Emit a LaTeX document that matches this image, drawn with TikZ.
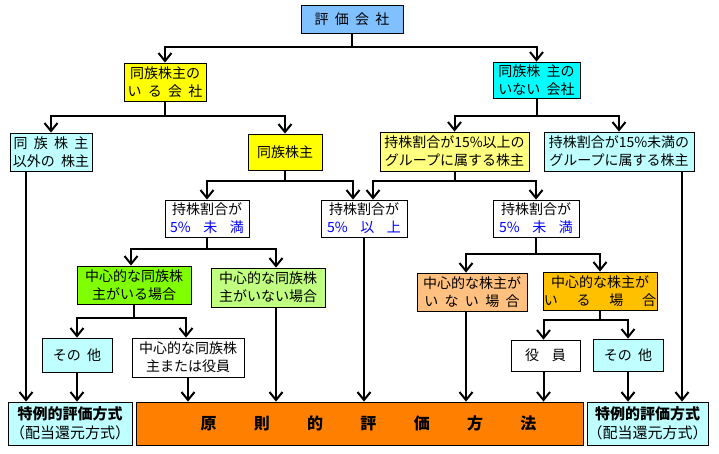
\documentclass[tikz,border=0pt]{standalone}
\usepackage{fontspec}
\setmainfont{Noto Sans CJK JP}[WordSpace=2]
\usetikzlibrary{arrows.meta}
\definecolor{skyblue}{HTML}{80C0FF}
\definecolor{aqua}{HTML}{00FFFF}
\definecolor{paleblue}{HTML}{C0FFFF}
\definecolor{paleyellow}{HTML}{FFFF80}
\definecolor{brightyellow}{HTML}{FFFF00}
\definecolor{limegreen}{HTML}{80FF00}
\definecolor{palegreen}{HTML}{C0FF80}
\definecolor{peach}{HTML}{FFC080}
\definecolor{amber}{HTML}{FFC000}
\definecolor{deeporange}{HTML}{FF8000}
\definecolor{ruleblue}{HTML}{0000FF}

\begin{document}
\begin{tikzpicture}[x=1pt, y=-1pt,
  every node/.style={draw, line width=0.8pt, inner sep=0pt, align=center, font=\fontsize{14pt}{18pt}\selectfont},
  result/.style={fill=paleblue, minimum width=124pt, minimum height=43pt, font=\fontsize{15pt}{19pt}\selectfont},
  link/.style={line width=2pt, -{Straight Barb[length=8pt,width=13pt]}}]
\useasboundingbox (0,0) rectangle (719,453);

\node[fill=skyblue, minimum width=102pt, minimum height=28pt] (firm) at (352,19) {評 価 会 社};
\node[fill=brightyellow, minimum width=82pt, minimum height=38pt] (famyes) at (165,82) {同族株主の\\い る 会 社};
\node[fill=aqua, minimum width=87pt, minimum height=36pt] (famno) at (536.5,80) {同族株 主の\\いない 会社};
\node[fill=paleblue, minimum width=82pt, minimum height=38pt] (others) at (51,152) {同 族 株 主\\以外の 株主};
\node[fill=brightyellow, minimum width=74pt, minimum height=36pt] (famsh) at (285,152) {同族株主};
\node[fill=paleyellow, minimum width=149pt, minimum height=39pt] (grpup) at (454.5,151.5) {持株割合が15\%以上の\\グループに属する株主};
\node[fill=paleblue, minimum width=150pt, minimum height=39pt] (grplow) at (619,151.5) {持株割合が15\%未満の\\グループに属する株主};
\node[fill=white, minimum width=84pt, minimum height=37pt] (ratlowL) at (207,218.5) {持株割合が\\\textcolor{ruleblue}{5\%~~未~~満}};
\node[fill=white, minimum width=86pt, minimum height=37pt] (ratup) at (364,218.5) {持株割合が\\\textcolor{ruleblue}{5\%~~以~~上}};
\node[fill=white, minimum width=86pt, minimum height=37pt] (ratlowR) at (536,218.5) {持株割合が\\\textcolor{ruleblue}{5\%~~未~~満}};
\node[fill=limegreen, minimum width=114pt, minimum height=38pt] (corefam) at (134,285) {中心的な同族株\\主がいる場合};
\node[fill=palegreen, minimum width=114pt, minimum height=39pt, align=left] (nocorefam) at (268,287.5) {中心的な同族株\\主がいない場合};
\node[fill=peach, minimum width=110pt, minimum height=38pt] (nocore) at (472,292) {中心的な株主が\\い な い 場 合};
\node[fill=amber, minimum width=114pt, minimum height=38pt] (core) at (600,291) {中心的な株主が\\い~~~る~~~場~~~合};
\node[fill=paleblue, minimum width=70pt, minimum height=34pt] (etcL) at (77,355) {その 他};
\node[fill=white, minimum width=112pt, minimum height=39pt] (coreoff) at (188,357.5) {中心的な同族株\\主または役員};
\node[fill=white, minimum width=69pt, minimum height=31pt] (officer) at (545.5,355.5) {役~~員};
\node[fill=paleblue, minimum width=70pt, minimum height=32pt] (etcR) at (628,355) {その 他};
\node[result] (specL) at (70,423.5) {\textbf{特例的評価方式}\\（配当還元方式）};
\node[fill=deeporange, minimum width=447pt, minimum height=43pt, font=\fontsize{16pt}{19pt}\selectfont\bfseries] (principle) at (359.5,423.5) {\hspace*{18pt}\makebox[336pt][s]{原\hfill 則\hfill 的\hfill 評\hfill 価\hfill 方\hfill 法}};
\node[result, minimum width=121pt] (specR) at (647.5,423.5) {\textbf{特例的評価方式}\\（配当還元方式）};

\draw[link] (firm.south) -- ++(0,14) -| (famyes.north);
\draw[link] (firm.south) -- ++(0,14) -| (famno.north);
\draw[link] (famyes.south) -- ++(0,15) -| (others.north);
\draw[link] (famyes.south) -- ++(0,15) -| (famsh.north);
\draw[link] (famno.south) -- ++(0,18) -| (grpup.north);
\draw[link] (famno.south) -- ++(0,18) -| (grplow.north);
\draw[link] (famsh.south) -- ++(0,11) -| (ratlowL.north);
\draw[link] (famsh.south) -- ++(0,11) -| ([xshift=-11pt]ratup.north);
\draw[link] (grpup.south) -- ++(0,10) -| ([xshift=9pt]ratup.north);
\draw[link] (grpup.south) -- ++(0,10) -| (ratlowR.north);
\draw[link] (ratlowL.south) -- ++(0,12) -| ([xshift=-3pt]corefam.north);
\draw[link] (ratlowL.south) -- ++(0,12) -| ([xshift=8pt]nocorefam.north);
\draw[link] (ratlowR.south) -- ++(0,17) -| ([xshift=-6pt]nocore.north);
\draw[link] (ratlowR.south) -- ++(0,17) -| (core.north);
\draw[link] (corefam.south) -- ++(0,14) -| (etcL.north);
\draw[link] (corefam.south) -- ++(0,14) -| ([xshift=-2pt]coreoff.north);
\draw[link] (core.south) -- ++(0,10) -| ([xshift=-2pt]officer.north);
\draw[link] (core.south) -- ++(0,10) -| (etcR.north);

\draw[link] ([xshift=-25pt]others.south) coordinate (c1) -- (c1 |- specL.north);
\draw[link] (etcL.south) -- (etcL.south |- specL.north);
\draw[link] (coreoff.south) -- (coreoff.south |- principle.north);
\draw[link] ([xshift=8pt]nocorefam.south) coordinate (c2) -- (c2 |- principle.north);
\draw[link] (ratup.south) -- (ratup.south |- principle.north);
\draw[link] ([xshift=-6pt]nocore.south) coordinate (c3) -- (c3 |- principle.north);
\draw[link] ([xshift=-2pt]officer.south) coordinate (c4) -- (c4 |- principle.north);
\draw[link] (etcR.south) -- (etcR.south |- specR.north);
\draw[link] ([xshift=63pt]grplow.south) coordinate (c5) -- (c5 |- specR.north);
\end{tikzpicture}
\end{document}
